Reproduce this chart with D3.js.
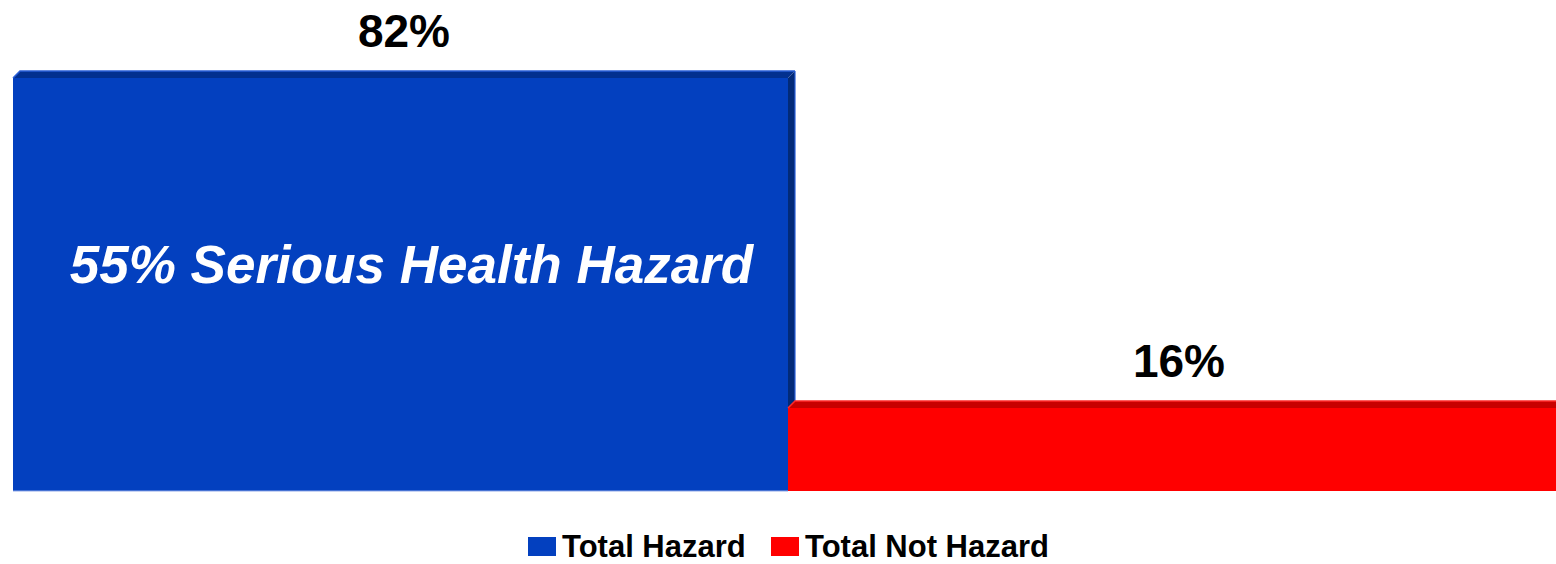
<!DOCTYPE html>
<html>
<head>
<meta charset="utf-8">
<script src="https://cdn.jsdelivr.net/npm/d3@7"></script>
<style>
  html, body { margin: 0; padding: 0; background: #ffffff; }
  svg { display: block; font-family: "Liberation Sans", Arial, sans-serif; }
</style>
</head>
<body>
<svg id="chart" width="1556" height="564"></svg>
<script>
// ---- data ----
const categories = ["Total Hazard", "Total Not Hazard"];
const values = [82, 16];
const valueLabels = ["82%", "16%"];
const innerLabel = "55% Serious Health Hazard";
const legendLabels = ["Total Hazard", "Total Not Hazard"];

// ---- styles ----
const frontColors = ["#0340BF", "#FF0000"];
const topColors = ["#02308F", "#C80000"];
const topEdge = ["#2A5FD8", "#FF2A2A"];
const sideColors = ["#022A78", "#B00000"];

const W = 1556, H = 564;
const plotLeft = 13, plotRight = 1563, plotBottom = 491;
const depth = 7;

const svg = d3.select("#chart");

const x = d3.scaleBand().domain(categories).range([plotLeft, plotRight]).padding(0);
const y = d3.scaleLinear().domain([0, 100]).range([488, -12]);

const g = svg.append("g");

categories.forEach((c, i) => {
  const x0 = x(c), x1 = x(c) + x.bandwidth();
  const yt = y(values[i]);
  // side face
  g.append("path")
    .attr("d", `M${x1},${yt} L${x1 + depth},${yt - depth} L${x1 + depth},${plotBottom - depth} L${x1},${plotBottom} Z`)
    .attr("fill", sideColors[i]);
  g.append("line")
    .attr("x1", x1 + depth).attr("x2", x1 + depth)
    .attr("y1", yt - depth).attr("y2", plotBottom - depth)
    .attr("stroke", topEdge[i]).attr("stroke-width", 1.2);
  // front face
  g.append("rect")
    .attr("x", x0).attr("y", yt)
    .attr("width", x.bandwidth()).attr("height", plotBottom - yt)
    .attr("fill", frontColors[i]);
  // top face
  g.append("path")
    .attr("d", `M${x0},${yt} L${x0 + depth},${yt - depth} L${x1 + depth},${yt - depth} L${x1},${yt} Z`)
    .attr("fill", topColors[i]);
  g.append("path")
    .attr("d", `M${x0},${yt} L${x0 + depth},${yt - depth} L${x1 + depth},${yt - depth}`)
    .attr("fill", "none")
    .attr("stroke", topEdge[i]).attr("stroke-width", 1.5);
  if (i === 0) {
    g.append("line")
      .attr("x1", x0).attr("x2", x1)
      .attr("y1", plotBottom).attr("y2", plotBottom)
      .attr("stroke", "#8FA8E8").attr("stroke-width", 1);
  }
  // value label
  g.append("text")
    .attr("x", x0 + x.bandwidth() / 2 + depth / 2)
    .attr("y", yt - 31)
    .attr("text-anchor", "middle")
    .attr("font-size", 46)
    .attr("font-weight", "bold")
    .attr("fill", "#000")
    .text(valueLabels[i]);
});

// inner annotation in blue bar
{
  const c = categories[0];
  const yt = y(values[0]);
  g.append("text")
    .attr("x", x(c) + x.bandwidth() / 2 + 11)
    .attr("y", (yt + plotBottom) / 2 - 2)
    .attr("text-anchor", "middle")
    .attr("font-size", 53)
    .attr("font-weight", "bold")
    .attr("font-style", "italic")
    .attr("fill", "#ffffff")
    .text(innerLabel);
}

// legend
const legend = svg.append("g");
const legendItems = [{x: 528, label: legendLabels[0], color: frontColors[0]},
                     {x: 771, label: legendLabels[1], color: frontColors[1]}];
legendItems.forEach(d => {
  legend.append("rect")
    .attr("x", d.x).attr("y", 537)
    .attr("width", 28).attr("height", 19)
    .attr("fill", d.color);
  legend.append("text")
    .attr("x", d.x + 34).attr("y", 557)
    .attr("font-size", 31)
    .attr("font-weight", "bold")
    .attr("fill", "#000")
    .text(d.label);
});
</script>
</body>
</html>
